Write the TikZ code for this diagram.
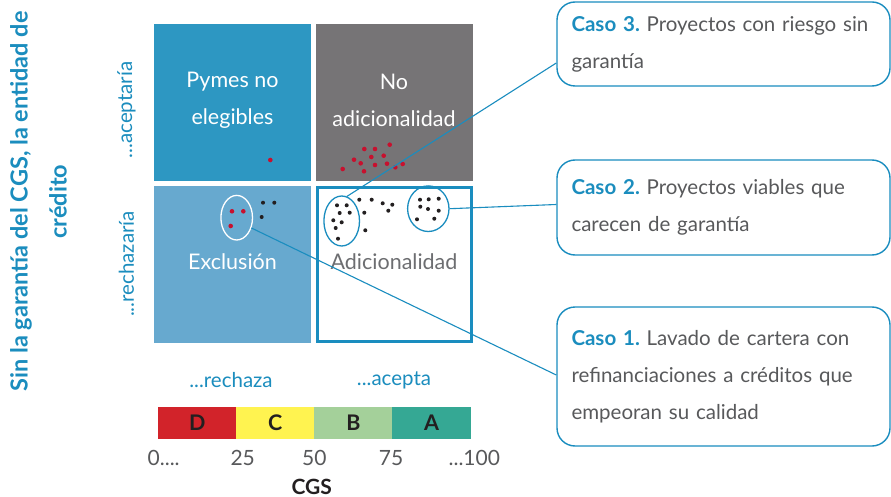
\documentclass[tikz,border=0pt]{standalone}
\usepackage{fontspec}
\setmainfont{Lato}
\usetikzlibrary{shapes.geometric,calc}
\definecolor{qblue}{HTML}{2D97C2}
\definecolor{qgray}{HTML}{767476}
\definecolor{qlight}{HTML}{67A9CF}
\definecolor{lineblue}{HTML}{1A8DBF}
\definecolor{txtblue}{HTML}{1B8DBE}
\definecolor{txtgray}{HTML}{58595B}
\definecolor{adgray}{HTML}{6D6E71}
\definecolor{dotred}{HTML}{C8102E}
\definecolor{dotblack}{HTML}{231F20}
\definecolor{cD}{HTML}{D2232A}
\definecolor{cC}{HTML}{FFF350}
\definecolor{cB}{HTML}{A4D09A}
\definecolor{cA}{HTML}{35A894}
\frenchspacing
\begin{document}
\begin{tikzpicture}[x=1pt,y=-1pt,
  quad/.style={minimum size=157pt, inner sep=0pt, draw=none},
  qtext/.style={align=center, text=white, font=\fontsize{21.5}{37}\selectfont, inner sep=0pt},
  casebox/.style={draw=lineblue, line width=1.4pt, rounded corners=18pt, minimum width=333pt, inner sep=0pt, align=left, text width=304pt, font=\fontsize{20.5}{37}\selectfont, text=txtgray},
  axlab/.style={text=txtblue, font=\fontsize{20.5}{24}\selectfont, inner sep=0pt},
  seg/.style={minimum width=78.1pt, minimum height=32pt, inner sep=0pt, text=dotblack, font=\fontsize{21.5}{24}\selectfont\bfseries},
  num/.style={text=txtgray, font=\fontsize{21}{24}\selectfont, inner sep=0pt},
  rdot/.style={fill=dotred},
  bdot/.style={fill=dotblack},
  conn/.style={draw=lineblue, line width=1.1pt},
  oval/.style={ellipse, inner sep=0pt, line width=1.3pt}]
\useasboundingbox (0,0) rectangle (891,497);
\fill[white] (0,0) rectangle (891,497);

% quadrants
\node[quad, fill=qblue] (q1) at (232.5,102.5) {};
\node[quad, fill=qgray] (q2) at (394,102.5) {};
\node[quad, fill=qlight] (q3) at (232.5,264.5) {};
\node[quad, minimum size=154pt, draw=lineblue, line width=3pt, fill=white] (q4) at (394,264.5) {};

\node[qtext] (t1) at (232.5,100) {Pymes no\\elegibles};
\node[qtext] (t2) at (394,100) {No\\adicionalidad};
\node[qtext] (t3) at (232.5,262) {Exclusión};
\node[qtext, text=adgray] (t4) at (394,262) {Adicionalidad};

% red dots
\foreach \p in {(270.3,160),(364.3,149),(375,149),(389.7,144.7),(354,159.7),(371.3,157),(383.7,155.7),(360.7,163.3),(375,165),(387,163.7),(342.7,169),(364,171.3),(395.3,167.3),(402.7,164),(232,211.3),(243.3,211.3),(230.7,226)}
  \fill[rdot] \p circle (2.3);
% black dots
\foreach \p in {(263,202.7),(274.3,202.7),(261.7,217),(337,205.3),(346.7,205.3),(339.7,213),(349.7,212.7),(333.3,220.3),(341.7,222.3),(335.7,228),(338,238.7),(359.3,199.7),(371.7,199.7),(382.7,203.3),(392.3,204.7),(388.3,210.7),(364.3,212.7),(365.3,230.3),(420,199.7),(428.7,199.3),(438.7,198.7),(420.3,206.7),(428,209),(438.7,210.7),(417,219.3),(434.3,218.7)}
  \fill[bdot] \p circle (2);

% ovals
\node[oval, draw=white, minimum width=31.6pt, minimum height=44.6pt] (e1) at (236.7,217.7) {};
\node[oval, draw=lineblue, minimum width=35.6pt, minimum height=50pt] (e3) at (341.7,221) {};
\node[oval, draw=lineblue, minimum width=41.4pt, minimum height=45.6pt] (e2) at (428.3,208.7) {};

% case boxes
\node[casebox, minimum height=84pt] (c3) at (723.5,44) {{\color{txtblue}\bfseries Caso 3.} Proyectos con riesgo sin\\garantía};
\node[casebox, minimum height=95pt] (c2) at (723.5,207.5) {{\color{txtblue}\bfseries Caso 2.} Proyectos viables que\\carecen de garantía};
\node[casebox, minimum height=139pt] (c1) at (723.5,376.5) {{\color{txtblue}\bfseries Caso 1.} Lavado de cartera con\\refinanciaciones a créditos que\\empeoran su calidad};

% connectors
\draw[conn] (e3.78) -- ([yshift=-19pt]c3.west);
\draw[conn] (e2.east) -- ([yshift=3pt]c2.west);
\draw[conn] (e1.-35) -- ([yshift=1.5pt]c1.west);

% axis labels
\node[rotate=90, align=center, text=txtblue, font=\fontsize{23.5}{39}\selectfont\bfseries, inner sep=0pt] (ylab) at (38.5,201.5) {Sin la garantía del CGS, la entidad de\\crédito};
\node[axlab, rotate=90] (ya) at (126.5,110) {...aceptaría};
\node[axlab, rotate=90] (yr) at (126.5,264) {...rechazaría};
\node[axlab] (xr) at (231,380) {...rechaza};
\node[axlab] (xa) at (394,380) {...acepta};

% scale bar
\node[seg, fill=cD] (sD) at (197.2,422.7) {D};
\node[seg, fill=cC] (sC) at (275.3,422.7) {C};
\node[seg, fill=cB] (sB) at (353.4,422.7) {B};
\node[seg, fill=cA] (sA) at (431.5,422.7) {A};

\node[num, anchor=west] (n0) at (147.5,458.3) {0....};
\node[num] (n25) at (242.7,458.3) {25};
\node[num] (n50) at (314.3,458.3) {50};
\node[num] (n75) at (391,458.3) {75};
\node[num] (n100) at (474.3,458.3) {...100};
\node[text=dotblack, font=\fontsize{21}{24}\selectfont\bfseries, inner sep=0pt] (cgs) at (311.7,486.7) {CGS};
\end{tikzpicture}
\end{document}
